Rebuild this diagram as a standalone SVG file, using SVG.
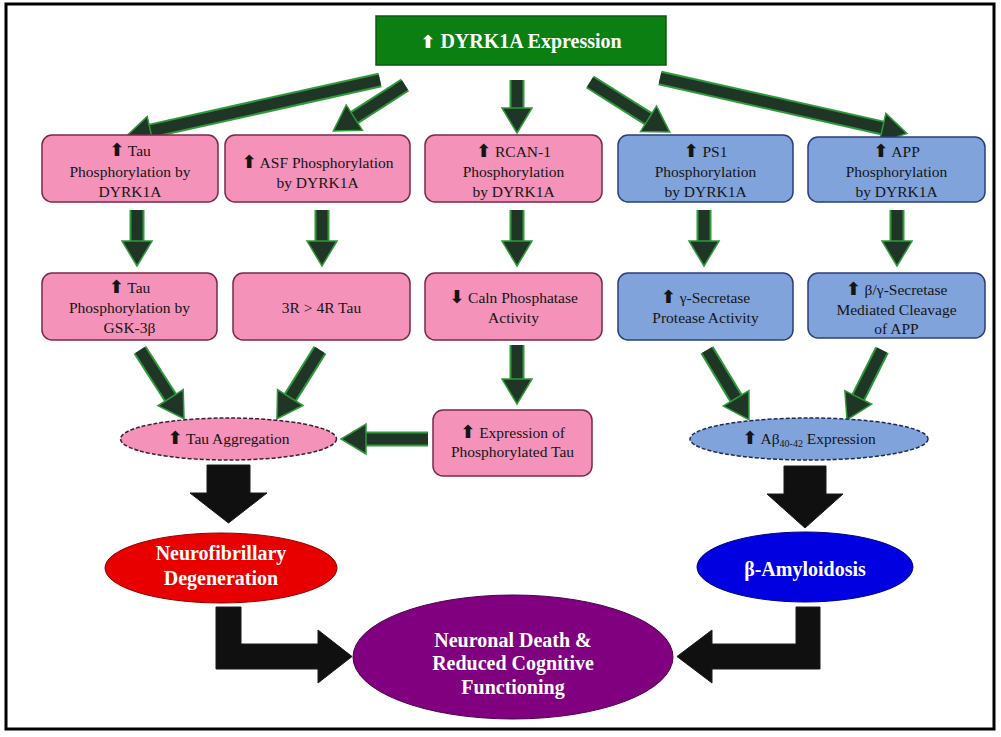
<svg xmlns="http://www.w3.org/2000/svg" width="1001" height="737" viewBox="0 0 1001 737">
<style>
.pk{fill:#f492ba;stroke:#7a2848;stroke-width:1.5}
.bl{fill:#80a3dc;stroke:#2c3d78;stroke-width:1.5}
.t{font-family:"Liberation Serif","Times New Roman",serif;font-size:15.5px;fill:#151515;text-anchor:middle}
.w{font-family:"Liberation Serif","Times New Roman",serif;font-weight:bold;font-size:20px;fill:#ffffff;text-anchor:middle}
.a{font-family:"DejaVu Sans",sans-serif;font-weight:bold;font-size:18px}
.glow{stroke:#2e9a3a;stroke-width:15;fill:none}
.ar{stroke:#1f3526;stroke-width:11;fill:none}
.blk{fill:#101010;stroke:#1a1a1a;stroke-width:1}
</style>
<defs>
<marker id="h" markerUnits="userSpaceOnUse" viewBox="-2 -2 30 34" refX="1" refY="15" markerWidth="30" markerHeight="34" orient="auto">
<path d="M0,0 L25,15 L0,30 z" fill="#1f3526" stroke="#2e9a3a" stroke-width="1.5"/>
</marker>
</defs>
<rect x="0" y="0" width="1001" height="737" fill="#ffffff"/>
<rect x="6" y="4" width="988" height="725" fill="none" stroke="#000" stroke-width="3"/>

<g id="connectors">
<g>
<path class="glow" d="M380,80 L149.5,131.2 M405,85 L353.5,118.1 M517,80 L517,109 M590,82 L649.4,119.3 M660,78 L883.5,128.2 M137,210 L137,242 M322,210 L322,242 M517,210 L517,242 M704,210 L704,242 M897,210 L897,242 M140,350 L171.1,398.5 M320,350 L289.7,398.4 M517,345 L517,380 M707,350 L736.6,399.2 M882,350 L857.8,398.3 M428,439 L365,439"/>
<path class="ar" marker-end="url(#h)" d="M380,80 L149.5,131.2"/>
<path class="ar" marker-end="url(#h)" d="M405,85 L353.5,118.1"/>
<path class="ar" marker-end="url(#h)" d="M517,80 L517,109"/>
<path class="ar" marker-end="url(#h)" d="M590,82 L649.4,119.3"/>
<path class="ar" marker-end="url(#h)" d="M660,78 L883.5,128.2"/>
<path class="ar" marker-end="url(#h)" d="M137,210 L137,242"/>
<path class="ar" marker-end="url(#h)" d="M322,210 L322,242"/>
<path class="ar" marker-end="url(#h)" d="M517,210 L517,242"/>
<path class="ar" marker-end="url(#h)" d="M704,210 L704,242"/>
<path class="ar" marker-end="url(#h)" d="M897,210 L897,242"/>
<path class="ar" marker-end="url(#h)" d="M140,350 L171.1,398.5"/>
<path class="ar" marker-end="url(#h)" d="M320,350 L289.7,398.4"/>
<path class="ar" marker-end="url(#h)" d="M517,345 L517,380"/>
<path class="ar" marker-end="url(#h)" d="M707,350 L736.6,399.2"/>
<path class="ar" marker-end="url(#h)" d="M882,350 L857.8,398.3"/>
<path class="ar" marker-end="url(#h)" d="M428,439 L365,439"/>
</g>
<polygon class="blk" points="207,465 250,465 250,493 267,493 228.5,523 190,493 207,493"/>
<polygon class="blk" points="784,466 826,466 826,494 843,494 805,528 767,494 784,494"/>
<polygon class="blk" points="216,607 241,607 241,644 318,644 318,630 352,656.5 318,683 318,669 216,669"/>
<polygon class="blk" points="820,607 796,607 796,644 712,644 712,630 677,656.5 712,683 712,669 820,669"/>
</g>

<g id="dyrk1a">
<rect x="376" y="16" width="290" height="49" fill="#0b7f12" stroke="#0a5a0e" stroke-width="1.5"/>
<text class="w" x="521" y="48" font-size="21"><tspan class="a" font-size="23">⬆</tspan> DYRK1A Expression</text>
</g>

<g id="tau-phos-dyrk1a">
<rect class="pk" x="42" y="135" width="176" height="67" rx="10"/>
<text class="t" x="130" y="156"><tspan class="a">⬆</tspan> Tau</text>
<text class="t" x="130" y="177">Phosphorylation by</text>
<text class="t" x="130" y="197">DYRK1A</text>
</g>
<g id="asf-phos">
<rect class="pk" x="225" y="135" width="185" height="67" rx="10"/>
<text class="t" x="317.5" y="168"><tspan class="a">⬆</tspan> ASF Phosphorylation</text>
<text class="t" x="317.5" y="188">by DYRK1A</text>
</g>
<g id="rcan1-phos">
<rect class="pk" x="425" y="135" width="177" height="67" rx="10"/>
<text class="t" x="513.5" y="157"><tspan class="a">⬆</tspan> RCAN-1</text>
<text class="t" x="513.5" y="177">Phosphorylation</text>
<text class="t" x="513.5" y="197">by DYRK1A</text>
</g>
<g id="ps1-phos">
<rect class="bl" x="618" y="135" width="175" height="67" rx="10"/>
<text class="t" x="705.5" y="157"><tspan class="a">⬆</tspan> PS1</text>
<text class="t" x="705.5" y="177">Phosphorylation</text>
<text class="t" x="705.5" y="197">by DYRK1A</text>
</g>
<g id="app-phos">
<rect class="bl" x="808" y="137" width="177" height="65" rx="10"/>
<text class="t" x="896.5" y="157"><tspan class="a">⬆</tspan> APP</text>
<text class="t" x="896.5" y="177">Phosphorylation</text>
<text class="t" x="896.5" y="197">by DYRK1A</text>
</g>

<g id="tau-phos-gsk">
<rect class="pk" x="42" y="273" width="175" height="67" rx="10"/>
<text class="t" x="129.5" y="293"><tspan class="a">⬆</tspan> Tau</text>
<text class="t" x="129.5" y="313">Phosphorylation by</text>
<text class="t" x="129.5" y="333">GSK-3β</text>
</g>
<g id="tau-3r4r">
<rect class="pk" x="233" y="273" width="177" height="67" rx="10"/>
<text class="t" x="321.5" y="313">3R &gt; 4R Tau</text>
</g>
<g id="caln">
<rect class="pk" x="425" y="273" width="177" height="67" rx="10"/>
<text class="t" x="513.5" y="303"><tspan class="a">⬇</tspan> Caln Phosphatase</text>
<text class="t" x="513.5" y="323">Activity</text>
</g>
<g id="gamma-sec">
<rect class="bl" x="618" y="273" width="175" height="67" rx="10"/>
<text class="t" x="705.5" y="303"><tspan class="a">⬆</tspan> γ-Secretase</text>
<text class="t" x="705.5" y="323">Protease Activity</text>
</g>
<g id="beta-gamma-sec">
<rect class="bl" x="808" y="273" width="177" height="65" rx="10"/>
<text class="t" x="896.5" y="295"><tspan class="a">⬆</tspan> β/γ-Secretase</text>
<text class="t" x="896.5" y="315">Mediated Cleavage</text>
<text class="t" x="896.5" y="334">of APP</text>
</g>

<g id="tau-aggregation">
<ellipse cx="228.5" cy="439" rx="108" ry="21" fill="#f492ba" stroke="#3a2030" stroke-width="1.5" stroke-dasharray="4 2"/>
<text class="t" x="228.5" y="444"><tspan class="a">⬆</tspan> Tau Aggregation</text>
</g>
<g id="phos-tau-expr">
<rect class="pk" x="433" y="410" width="159" height="66" rx="10"/>
<text class="t" x="512.5" y="438"><tspan class="a">⬆</tspan> Expression of</text>
<text class="t" x="512.5" y="457">Phosphorylated Tau</text>
</g>
<g id="abeta-expr">
<ellipse cx="809" cy="439" rx="119" ry="21" fill="#80a3dc" stroke="#1e2a55" stroke-width="1.5" stroke-dasharray="4 2"/>
<text class="t" x="809" y="444"><tspan class="a">⬆</tspan> Aβ<tspan font-size="10" dy="3">40-42</tspan><tspan dy="-3"> Expression</tspan></text>
</g>

<g id="neurofibrillary">
<ellipse cx="221" cy="568" rx="116" ry="35" fill="#e80000" stroke="#900000" stroke-width="1"/>
<text class="w" x="221" y="560">Neurofibrillary</text>
<text class="w" x="221" y="585">Degeneration</text>
</g>
<g id="amyloidosis">
<ellipse cx="805" cy="567" rx="108" ry="35" fill="#0000e0" stroke="#000080" stroke-width="1"/>
<text class="w" x="805" y="576">β-Amyloidosis</text>
</g>
<g id="neuronal-death">
<ellipse cx="513" cy="657" rx="160" ry="62" fill="#800080" stroke="#4a004a" stroke-width="1"/>
<text class="w" x="513" y="647">Neuronal Death &amp;</text>
<text class="w" x="513" y="670">Reduced Cognitive</text>
<text class="w" x="513" y="694">Functioning</text>
</g>
</svg>
